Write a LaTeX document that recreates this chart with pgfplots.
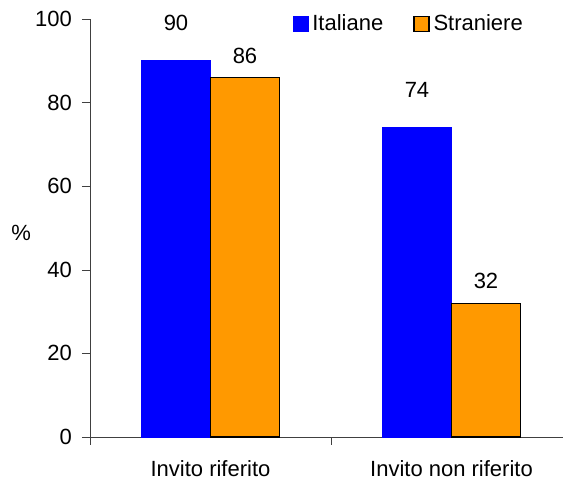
\documentclass[border=0pt]{standalone}
\usepackage{pgfplots}
\pgfplotsset{compat=1.18}
\usepackage{fontspec}
\setmainfont{Liberation Sans}
\definecolor{itblue}{RGB}{0,0,255}
\definecolor{strorange}{RGB}{255,153,0}

\begin{document}
\begin{tikzpicture}[font=\fontsize{11}{13}\selectfont]
\path[use as bounding box] (-45pt,-24.5pt) rectangle (236.5pt,218.5pt);
\begin{axis}[
  scale only axis, width=241pt, height=209pt,
  ymin=0, ymax=100, xmin=-0.5, xmax=1.5,
  ytick={0,20,...,100},
  yticklabel style={xshift=-1.5pt},
  xtick={-0.5,0.5}, xticklabels={,},
  extra x ticks={0,1},
  extra x tick labels={Invito riferito, Invito non riferito},
  extra x tick style={major tick length=0pt, tick label style={yshift=-8pt}},
  axis lines=left, axis line style={-, black!75},
  tick align=outside, major tick length=4pt, tick style={black!75},
  /pgf/number format/assume math mode=true,
  ybar=0pt, bar width=34.5pt,
  ylabel={\%},
  ylabel style={rotate=-90, at={(axis description cs:-0.143,0.488)}, anchor=center},
  legend style={at={(0.407,0.988)}, anchor=west, draw=none, fill=none,
    legend columns=2, /tikz/every even column/.append style={column sep=13pt}},
  legend image code/.code={\draw[#1] (0pt,-3.75pt) rectangle (7.5pt,3.75pt);},
  nodes near coords, clip=false,
]
\addplot[fill=itblue, draw=itblue,
  every node near coord/.append style={anchor=center, yshift=19pt, text=black}]
  coordinates {(0,90) (1,74)};
\addplot[fill=strorange, draw=black, line width=0.6pt,
  every node near coord/.append style={anchor=center, yshift=11pt, text=black}]
  coordinates {(0,86) (1,32)};
\legend{Italiane, Straniere}
\end{axis}
\end{tikzpicture}
\end{document}
